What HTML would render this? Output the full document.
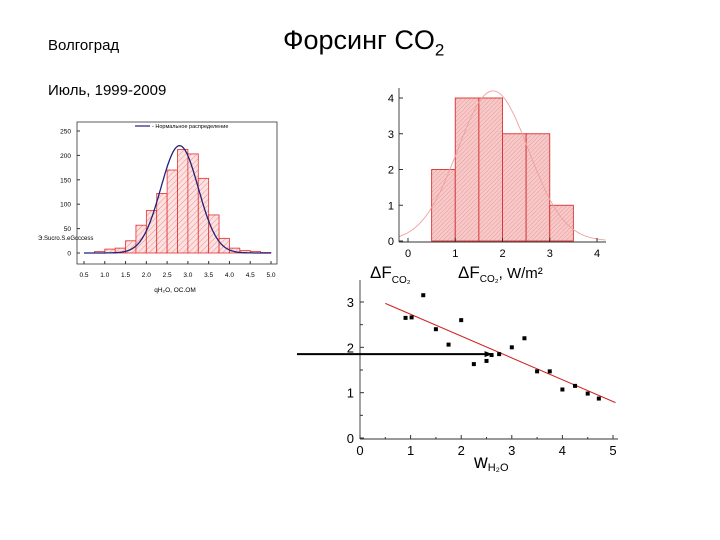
<!DOCTYPE html>
<html><head><meta charset="utf-8"><style>
body{margin:0;background:#fff;font-family:"Liberation Sans",sans-serif}
#wrap{position:relative;width:720px;height:540px;overflow:hidden}
.t{position:absolute;color:#000;white-space:nowrap}
</style></head><body>
<div id="wrap">
<div class="t" style="left:48px;top:37px;font-size:15px">Волгоград</div>
<div class="t" style="left:48px;top:82px;font-size:15px">Июль, 1999-2009</div>
<div class="t" style="left:283px;top:25px;font-size:27px">Форсинг CO<sub style="font-size:17px">2</sub></div>
<svg id="svg" width="720" height="540" style="position:absolute;left:0;top:0">
<defs>
<pattern id="hatch" width="4" height="4" patternUnits="userSpaceOnUse" patternTransform="rotate(45)"><rect width="4" height="4" fill="#fde2e2"/><line x1="0" y1="0" x2="0" y2="4" stroke="#f08a8a" stroke-width="1"/></pattern>
<pattern id="hatch2" width="3" height="3" patternUnits="userSpaceOnUse" patternTransform="rotate(45)"><rect width="3" height="3" fill="#f7c9c9"/><line x1="0" y1="0" x2="0" y2="3" stroke="#e89a9a" stroke-width="1"/></pattern>
<marker id="arr" markerWidth="8" markerHeight="8" refX="7" refY="4" orient="auto" markerUnits="userSpaceOnUse"><path d="M0,1 L8,4 L0,7 z" fill="#000"/></marker>
</defs>
</svg>
</div>
<script>
// Left histogram
const h1Bins=[0.5,0.75,1.0,1.25,1.5,1.75,2.0,2.25,2.5,2.75,3.0,3.25,3.5,3.75,4.0,4.25,4.5,4.75];
const h1Counts=[0,3,8,10,25,57,87,122,170,212,203,153,78,30,10,5,3,1];
const h1XTicks=["0.5","1.0","1.5","2.0","2.5","3.0","3.5","4.0","4.5","5.0"];
const h1YTicks=[0,50,100,150,200,250];
const h1Fit=[2.8,0.45,220];
// Right histogram
const h2Bins=[0.5,1.0,1.5,2.0,2.5,3.0];
const h2Counts=[2,4,4,3,3,1];
const h2XTicks=[0,1,2,3,4];
const h2YTicks=[0,1,2,3,4];
const h2Fit=[1.8,0.75,4.2];
// Scatter
const scX=[0.9,1.02,1.25,1.5,1.75,2.0,2.25,2.5,2.6,2.75,3.0,3.25,3.5,3.75,4.0,4.25,4.5,4.72];
const scY=[2.65,2.66,3.15,2.4,2.06,2.6,1.63,1.7,1.83,1.85,2.0,2.2,1.47,1.47,1.07,1.15,0.98,0.87];
const scLine=[[0.5,2.97],[5.05,0.78]];
const scArrowY=1.85, scArrowX=2.6;
const scXTicks=[0,1,2,3,4,5];
const scYTicks=[0,1,2,3];

const svg=document.getElementById('svg');
const NS='http://www.w3.org/2000/svg';
function mk(tag,at,parent){const e=document.createElementNS(NS,tag);for(const k in at)e.setAttribute(k,at[k]);(parent||svg).appendChild(e);return e;}
function txt(x,y,s,size,anchor,parent){const e=mk('text',{x:x,y:y,'font-size':size,'text-anchor':anchor||'middle','font-family':'Liberation Sans, sans-serif'},parent);e.textContent=s;return e;}

// ---- chart 1
const g1=mk('g',{});


const x1=v=>84+(v-0.5)*(271-84)/4.5, y1=v=>253-v*(253-131)/250;
h1Bins.forEach((b,i)=>{const r=mk('rect',{x:x1(b),y:y1(h1Counts[i]),width:x1(b+0.25)-x1(b),height:y1(0)-y1(h1Counts[i]),fill:'url(#hatch)',stroke:'#e03030','stroke-width':0.8},g1);

});
mk('rect',{x:77,y:122,width:200,height:142,fill:'none',stroke:'#333','stroke-width':0.8},g1);
h1YTicks.forEach(v=>{mk('line',{x1:77,x2:80,y1:y1(v),y2:y1(v),stroke:'#333'},g1);txt(71,y1(v)+2.5,v,6.5,'end',g1);});
h1XTicks.forEach((s,i)=>{const xx=x1(0.5+i*0.5);mk('line',{x1:xx,x2:xx,y1:264,y2:261,stroke:'#333'},g1);txt(xx,277,s,6.5,'middle',g1);});
let p='';for(let v=0.5;v<=5.0001;v+=0.02){const c=h1Fit[2]*Math.exp(-((v-h1Fit[0])**2)/(2*h1Fit[1]**2));p+=(p?'L':'M')+x1(v).toFixed(1)+','+y1(c).toFixed(1);}
const c1=mk('path',{d:p,fill:'none',stroke:'#22227a','stroke-width':1.3},g1);


mk('line',{x1:135,x2:150,y1:126,y2:126,stroke:'#22227a','stroke-width':1.2},g1);
txt(152,128,'- Нормальное распределение',5.5,'start',g1);
txt(38,240,'Э.Sucro.S.eGcccess',6,'start',g1);
txt(175,292,'qH₂O, ОС.ОМ',6.5,'middle',g1);

// ---- chart 2
const g2=mk('g',{});


const x2=v=>408+v*(597-408)/4, y2=v=>241-v*(241-98)/4;
h2Bins.forEach((b,i)=>{const r=mk('rect',{x:x2(b),y:y2(h2Counts[i]),width:x2(b+0.5)-x2(b),height:y2(0)-y2(h2Counts[i]),fill:'url(#hatch2)',stroke:'#d83030','stroke-width':0.9},g2);

});
p='';for(let v=-0.2;v<=4.2;v+=0.03){const c=h2Fit[2]*Math.exp(-((v-h2Fit[0])**2)/(2*h2Fit[1]**2));p+=(p?'L':'M')+x2(v).toFixed(1)+','+y2(c).toFixed(1);}
mk('path',{d:p,fill:'none',stroke:'#f0a0a0','stroke-width':0.9},g2);
mk('line',{x1:399,x2:399,y1:88,y2:242,stroke:'#333','stroke-width':0.9},g2);
mk('line',{x1:399,x2:606,y1:242,y2:242,stroke:'#333','stroke-width':0.9},g2);
h2YTicks.forEach(v=>{mk('line',{x1:399,x2:403,y1:y2(v),y2:y2(v),stroke:'#333'},g2);txt(394,y2(v)+4,v,11,'end',g2);});
h2XTicks.forEach(v=>{mk('line',{x1:x2(v),x2:x2(v),y1:242,y2:238,stroke:'#333'},g2);txt(x2(v),257,v,11,'middle',g2);});
const l2=txt(458,278,'ΔF',17,'start',g2);
const s2=mk('tspan',{'font-size':10,dy:4},l2);s2.textContent='CO₂';
const s3=mk('tspan',{'font-size':15,dy:-4},l2);s3.textContent=', W/m²';

// ---- chart 3
const g3=mk('g',{});


const x3=v=>360+v*(613-360)/5, y3=v=>438-v*(438-302)/3;
mk('line',{x1:360,x2:360,y1:280,y2:439,stroke:'#333','stroke-width':0.9},g3);
mk('line',{x1:360,x2:618,y1:439,y2:439,stroke:'#333','stroke-width':0.9},g3);
scYTicks.forEach(v=>{mk('line',{x1:360,x2:364,y1:y3(v),y2:y3(v),stroke:'#333'},g3);txt(354,y3(v)+5,v,13,'end',g3);});
for(let v=0.5;v<3.5;v+=1)mk('line',{x1:360,x2:363,y1:y3(v),y2:y3(v),stroke:'#333'},g3);
scXTicks.forEach(v=>{mk('line',{x1:x3(v),x2:x3(v),y1:439,y2:435,stroke:'#333'},g3);txt(x3(v),455,v,13,'middle',g3);});
for(let v=0.5;v<5;v+=1)mk('line',{x1:x3(v),x2:x3(v),y1:439,y2:437,stroke:'#333'},g3);
const fl=mk('line',{x1:x3(scLine[0][0]),y1:y3(scLine[0][1]),x2:x3(scLine[1][0]),y2:y3(scLine[1][1]),stroke:'#d02020','stroke-width':1},g3);


scX.forEach((v,i)=>{const r=mk('rect',{x:x3(v)-2,y:y3(scY[i])-2,width:4,height:4,fill:'#000'},g3);

});
const ar=mk('line',{x1:297,y1:y3(scArrowY),x2:x3(scArrowX),y2:y3(scArrowY),stroke:'#000','stroke-width':2,'marker-end':'url(#arr)'},g3);


const l3=txt(370,278,'ΔF',17,'start',g3);
const s4=mk('tspan',{'font-size':10,dy:5},l3);s4.textContent='CO₂';
const l4=txt(474,468,'w',19,'start',g3);
const s5=mk('tspan',{'font-size':11,dy:3},l4);s5.textContent='H₂O';
</script>
</body></html>
